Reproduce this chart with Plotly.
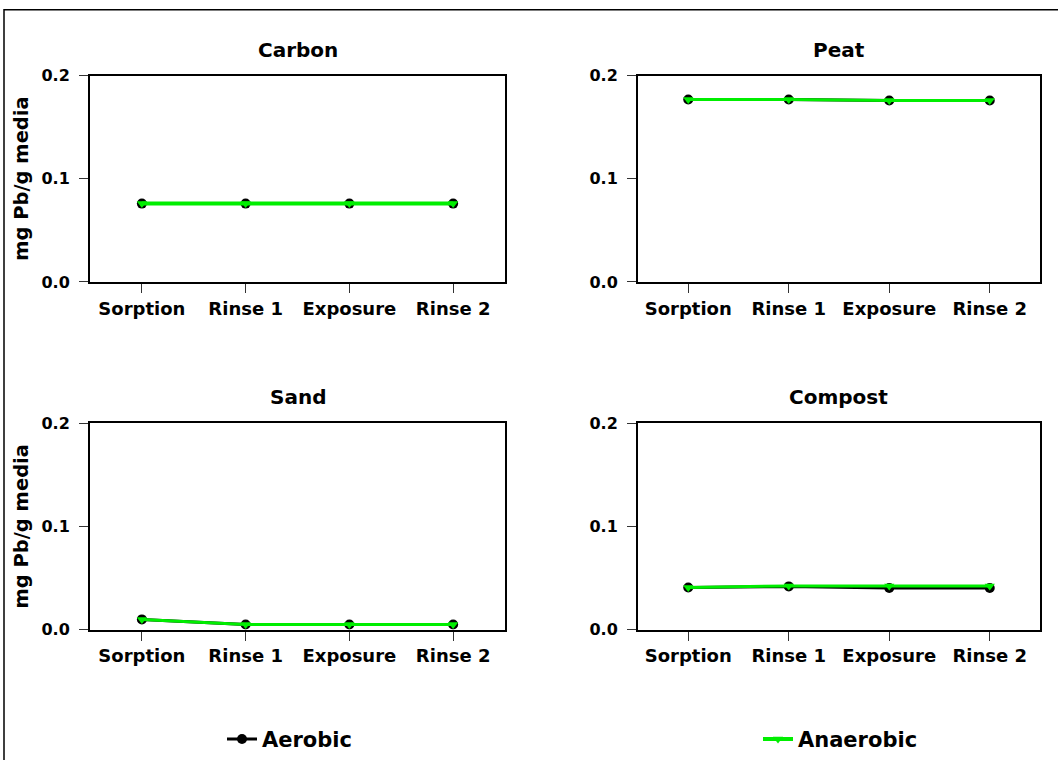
import plotly.graph_objects as go

W, H = 1058, 760

stages = ["Sorption", "Rinse 1", "Exposure", "Rinse 2"]
media = ["Carbon", "Peat", "Sand", "Compost"]

carbon_aerobic = [0.076, 0.076, 0.076, 0.076]
carbon_anaerobic = [0.076, 0.076, 0.076, 0.076]
peat_aerobic = [0.177, 0.177, 0.176, 0.176]
peat_anaerobic = [0.177, 0.177, 0.176, 0.176]
sand_aerobic = [0.010, 0.005, 0.005, 0.005]
sand_anaerobic = [0.010, 0.005, 0.005, 0.005]
compost_aerobic = [0.041, 0.042, 0.0405, 0.0405]
compost_anaerobic = [0.041, 0.0425, 0.0425, 0.0425]

aerobic = [carbon_aerobic, peat_aerobic, sand_aerobic, compost_aerobic]
anaerobic = [carbon_anaerobic, peat_anaerobic, sand_anaerobic, compost_anaerobic]

y_ticks = [0.0, 0.1, 0.2]
y_title = "mg Pb/g media"

FONT = "DejaVu Sans, Arial, sans-serif"
GREEN = "#00ee00"

def px_x(p):
    return p / W

def px_y(p):
    # target pixel row -> paper fraction (calibrated to the capture)
    f = (p - 9) / 0.972
    return 1 - f / H

xdoms = [[px_x(90), px_x(505)], [px_x(638), px_x(1040)]]
ydoms = [[px_y(283), px_y(76)], [px_y(632), px_y(425)]]
title_y = [px_y(50), px_y(398)]
line_w = [4, 3, 3, 3]

fig = go.Figure()
layout = {}
annotations = []
for i, name in enumerate(media):
    r, c = divmod(i, 2)
    ax = "" if i == 0 else str(i + 1)
    fig.add_trace(go.Scatter(
        x=stages, y=aerobic[i], mode="lines+markers", name="Aerobic",
        line=dict(color="black", width=3),
        marker=dict(symbol="circle", size=10, color="black"),
        xaxis="x" + ax, yaxis="y" + ax, showlegend=(i == 0), legend="legend",
    ))
    fig.add_trace(go.Scatter(
        x=stages, y=anaerobic[i], mode="lines+markers", name="Anaerobic",
        line=dict(color=GREEN, width=line_w[i]),
        marker=dict(symbol="triangle-down", size=9, color=GREEN),
        xaxis="x" + ax, yaxis="y" + ax, showlegend=(i == 0), legend="legend2",
    ))
    layout["xaxis" + ax] = dict(
        domain=xdoms[c], anchor="y" + ax, type="category",
        range=[-0.5, 3.5], showline=True, linecolor="black", linewidth=2,
        mirror=True, ticks="outside", ticklen=9, tickcolor="#333", tickwidth=1,
        showgrid=False, zeroline=False,
        tickfont=dict(family=FONT, size=18, color="black", weight="bold"),
    )
    layout["yaxis" + ax] = dict(
        domain=ydoms[r], anchor="x" + ax, range=[0, 0.2],
        tickvals=y_ticks, tickformat=".1f",
        showline=True, linecolor="black", linewidth=2, mirror=True,
        ticks="outside", ticklen=9, tickcolor="#333", tickwidth=1,
        ticklabelstandoff=6,
        showgrid=False, zeroline=False,
        tickfont=dict(family=FONT, size=16, color="black", weight="bold"),
    )
    if c == 0:
        annotations.append(dict(
            text=y_title, xref="paper", yref="paper",
            x=px_x(22), y=(ydoms[r][0] + ydoms[r][1]) / 2,
            xanchor="center", yanchor="middle", textangle=-90, showarrow=False,
            font=dict(family=FONT, size=19.5, color="black", weight="bold"),
        ))
    annotations.append(dict(
        text=name, xref="paper", yref="paper",
        x=(xdoms[c][0] + xdoms[c][1]) / 2, y=title_y[r],
        xanchor="center", yanchor="middle", showarrow=False,
        font=dict(family=FONT, size=20, color="black", weight="bold"),
    ))

fig.update_layout(
    width=W, height=H,
    margin=dict(l=0, r=0, t=0, b=0),
    paper_bgcolor="white", plot_bgcolor="white",
    annotations=annotations,
    legend=dict(x=px_x(222), y=px_y(742), xanchor="left", yanchor="middle",
                font=dict(family=FONT, size=21, color="black", weight="bold"),
                bgcolor="rgba(0,0,0,0)"),
    legend2=dict(x=px_x(758), y=px_y(742), xanchor="left", yanchor="middle",
                 font=dict(family=FONT, size=21, color="black", weight="bold"),
                 bgcolor="rgba(0,0,0,0)"),
    shapes=[dict(type="rect", xref="paper", yref="paper",
                 x0=px_x(4), y0=1 - 0.8 / H, x1=1.2, y1=-0.2,
                 line=dict(color="black", width=1.5), layer="below")],
    **layout,
)

post = (
    "document.documentElement.style.margin='0';"
    "document.documentElement.style.padding='0';"
    "document.documentElement.style.overflow='hidden';"
    "document.body.style.margin='0';"
    "document.body.style.padding='0';"
    "document.body.style.overflow='hidden';"
    "var d=document.getElementById('{plot_id}');"
    "d.style.position='fixed';d.style.top='0px';d.style.left='0px';"
)

fig.write_html("out.html", config={"displayModeBar": False}, post_script=post)
